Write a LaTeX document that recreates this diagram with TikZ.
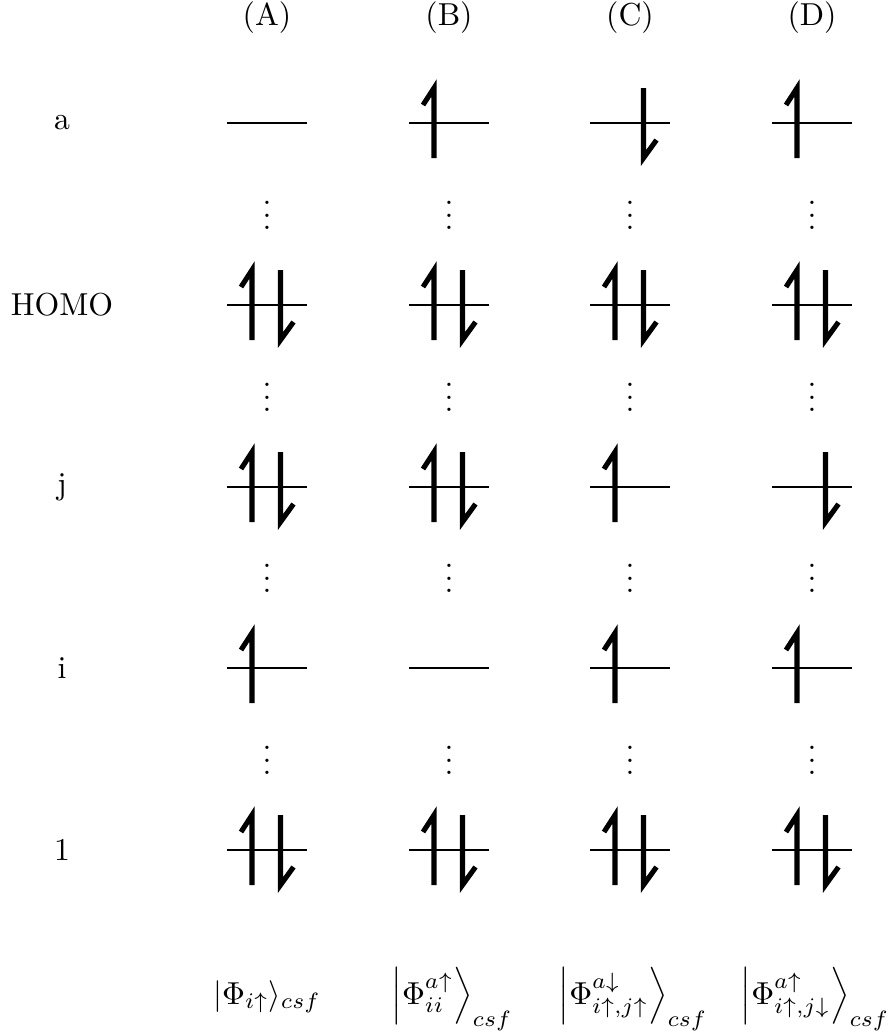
\documentclass[tikz,border=0pt]{standalone}
\usepackage{amsmath}
\begin{document}
\begin{tikzpicture}[x=0.315pt,y=-0.315pt,
  lvl/.style={line width=0.7pt},
  spin/.style={line width=1.6pt, line cap=butt, line join=miter},
  lbl/.style={inner sep=0pt, anchor=center},
  dts/.style={inner sep=0pt, anchor=center, yshift=2.5pt},
  ket/.style={inner sep=0pt, anchor=base},
  level/.pic={\draw[lvl] (-40,0) -- (40,0);},
  upspin/.pic={\draw[spin] (-15,35) -- (-15,-35) -- (-26,-18);},
  downspin/.pic={\draw[spin] (13.5,-35) -- (13.5,35) -- (26.5,17);}
]
\useasboundingbox (0,0) rectangle (889,1032);

% column headers
\node[lbl] (hA) at (267,18) {(A)};
\node[lbl] (hB) at (449,18) {(B)};
\node[lbl] (hC) at (630,18) {(C)};
\node[lbl] (hD) at (812,18) {(D)};

% row labels
\node[lbl] (ra) at (62,123) {a};
\node[lbl] (rh) at (62,305) {HOMO};
\node[lbl] (rj) at (62,487) {j};
\node[lbl] (ri) at (62,668) {i};
\node[lbl] (r1) at (62,850) {1};

% levels and dots
\foreach \cx in {267,449,630,812}{
  \foreach \ry in {123,305,487,668,850}{
    \pic at (\cx,\ry) {level};
  }
  \foreach \dy in {214,396,577,759}{
    \node[dts] at (\cx,\dy) {$\vdots$};
  }
}

% column A
\pic at (267,305) {upspin}; \pic at (267,305) {downspin};
\pic at (267,487) {upspin}; \pic at (267,487) {downspin};
\pic at (267,668) {upspin};
\pic at (267,850) {upspin}; \pic at (267,850) {downspin};

% column B
\pic at (449,123) {upspin};
\pic at (449,305) {upspin}; \pic at (449,305) {downspin};
\pic at (449,487) {upspin}; \pic at (449,487) {downspin};
\pic at (449,850) {upspin}; \pic at (449,850) {downspin};

% column C
\pic at (630,123) {downspin};
\pic at (630,305) {upspin}; \pic at (630,305) {downspin};
\pic at (630,487) {upspin};
\pic at (630,668) {upspin};
\pic at (630,850) {upspin}; \pic at (630,850) {downspin};

% column D
\pic at (812,123) {upspin};
\pic at (812,305) {upspin}; \pic at (812,305) {downspin};
\pic at (812,487) {downspin};
\pic at (812,668) {upspin};
\pic at (812,850) {upspin}; \pic at (812,850) {downspin};

% kets
\node[ket] (kA) at (267,1004) {$|\Phi_{i\uparrow}\rangle_{csf}$};
\node[ket] (kB) at (452,1004) {$\left|\Phi^{a\uparrow}_{ii}\right\rangle_{csf}$};
\node[ket] (kC) at (633,1004) {$\left|\Phi^{a\downarrow}_{i\uparrow,j\uparrow}\right\rangle_{csf}$};
\node[ket] (kD) at (815,1004) {$\left|\Phi^{a\uparrow}_{i\uparrow,j\downarrow}\right\rangle_{csf}$};
\end{tikzpicture}
\end{document}
